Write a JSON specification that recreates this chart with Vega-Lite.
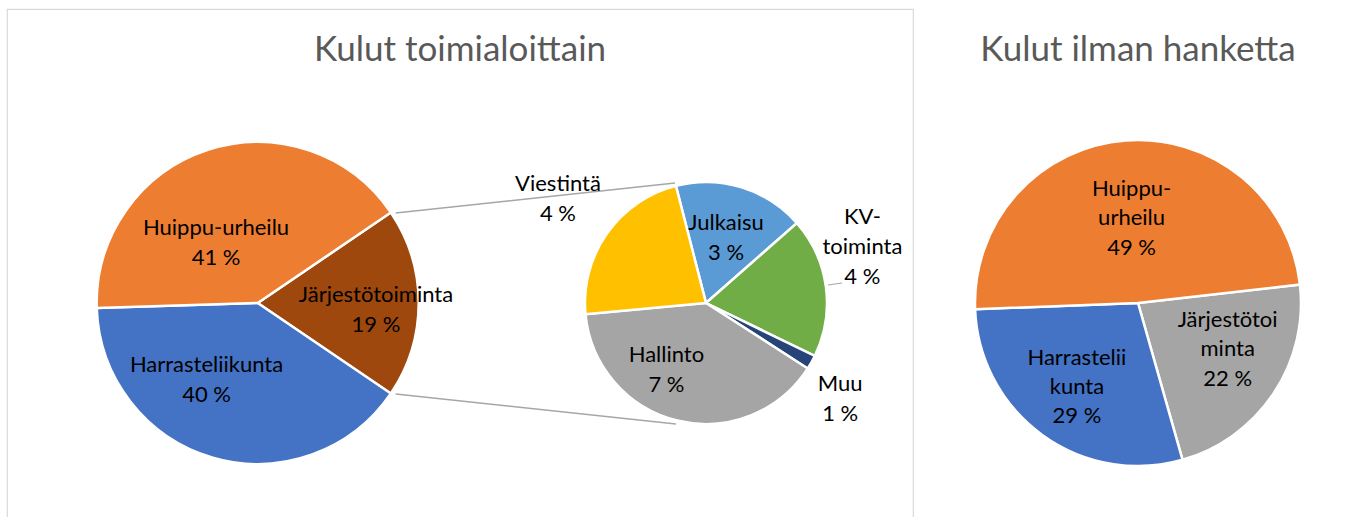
{
  "$schema": "https://vega.github.io/schema/vega-lite/v6.json",
  "padding": {"left": 6, "top": 8, "right": 3, "bottom": 0},
  "spacing": 2,
  "config": {
    "view": {"stroke": "#D9D9D9", "strokeWidth": 1.2},
    "font": "Lato"
  },
  "datasets": {
    "paa": [
      {"kaavio": "pää", "toimiala": "Järjestötoiminta", "nimike": "Järjestötoiminta", "prosentti": "19 %", "osuus": 19, "n": 1},
      {"kaavio": "pää", "toimiala": "Harrasteliikunta", "nimike": "Harrasteliikunta", "prosentti": "40 %", "osuus": 40, "n": 2},
      {"kaavio": "pää", "toimiala": "Huippu-urheilu", "nimike": "Huippu-urheilu", "prosentti": "41 %", "osuus": 41, "n": 3}
    ],
    "erittely": [
      {"kaavio": "erittely", "toimiala": "Julkaisu", "nimike": "Julkaisu", "prosentti": "3 %", "osuus": 3.33, "n": 1},
      {"kaavio": "erittely", "toimiala": "KV-toiminta", "nimike": "KV-\ntoiminta", "prosentti": "4 %", "osuus": 3.55, "n": 2},
      {"kaavio": "erittely", "toimiala": "Muu", "nimike": "Muu", "prosentti": "1 %", "osuus": 0.36, "n": 3},
      {"kaavio": "erittely", "toimiala": "Hallinto", "nimike": "Hallinto", "prosentti": "7 %", "osuus": 7.49, "n": 4},
      {"kaavio": "erittely", "toimiala": "Viestintä", "nimike": "Viestintä", "prosentti": "4 %", "osuus": 4.27, "n": 5}
    ],
    "ilman": [
      {"toimiala": "Järjestötoiminta", "nimike": "Järjestötoi\nminta", "prosentti": "22 %", "osuus": 22.4, "n": 1},
      {"toimiala": "Harrasteliikunta", "nimike": "Harrastelii\nkunta", "prosentti": "29 %", "osuus": 28.8, "n": 2},
      {"toimiala": "Huippu-urheilu", "nimike": "Huippu-\nurheilu", "prosentti": "49 %", "osuus": 48.8, "n": 3}
    ],
    "yhdysviivat": [
      {"mista": "pää", "mihin": "erittely", "reuna": "ylä"},
      {"mista": "pää", "mihin": "erittely", "reuna": "ala"},
      {"mista": "erittely", "mihin": "erittely", "reuna": "KV"}
    ]
  },
  "hconcat": [
    {
      "width": 906,
      "height": 588,
      "title": {"text": "Kulut toimialoittain", "font": "Lato", "fontSize": 35, "fontWeight": "normal", "color": "#595959", "anchor": "middle", "baseline": "alphabetic", "offset": -87},
      "layer": [
        {
          "data": {"name": "paa"},
          "mark": {"type": "arc", "outerRadius": 161, "stroke": "#FFFFFF", "strokeWidth": 2.5},
          "encoding": {
            "x": {"field": "kaavio", "type": "nominal", "scale": {"type": "point", "domain": ["pää", "erittely"], "padding": 0.5105, "align": 0.5477}, "axis": null},
            "theta": {"field": "osuus", "type": "quantitative", "stack": true, "scale": {"range": [0.97389, 7.25708]}},
            "order": {"field": "n", "type": "quantitative"},
            "color": {"field": "toimiala", "type": "nominal", "scale": {"domain": ["Huippu-urheilu", "Harrasteliikunta", "Järjestötoiminta"], "range": ["#ED7D31", "#4472C4", "#9E480E"]}, "legend": null}
          }
        },
        {
          "data": {"name": "erittely"},
          "mark": {"type": "arc", "outerRadius": 121, "stroke": "#FFFFFF", "strokeWidth": 2.5},
          "encoding": {
            "x": {"field": "kaavio", "type": "nominal", "scale": {"type": "point", "domain": ["pää", "erittely"], "padding": 0.5105, "align": 0.5477}, "axis": null},
            "theta": {"field": "osuus", "type": "quantitative", "stack": true, "scale": {"range": [-0.25133, 6.03186]}},
            "order": {"field": "n", "type": "quantitative"},
            "color": {"field": "toimiala", "type": "nominal", "scale": {"domain": ["Julkaisu", "KV-toiminta", "Muu", "Hallinto", "Viestintä"], "range": ["#5B9BD5", "#70AD47", "#264478", "#A5A5A5", "#FFC000"]}, "legend": null}
          }
        },
        {
          "data": {"name": "yhdysviivat"},
          "transform": [{"filter": "datum.reuna === 'ylä'"}],
          "mark": {"type": "rule", "color": "#A6A6A6", "strokeWidth": 1.5, "xOffset": 138, "x2Offset": -31, "yOffset": -90, "y2Offset": -120},
          "encoding": {
            "x": {"field": "mista", "type": "nominal", "scale": {"type": "point", "domain": ["pää", "erittely"], "padding": 0.5105, "align": 0.5477}, "axis": null},
            "x2": {"field": "mihin"},
            "y": {"datum": "keski", "type": "nominal", "scale": {"type": "point"}, "axis": null},
            "y2": {"datum": "keski"}
          }
        },
        {
          "data": {"name": "yhdysviivat"},
          "transform": [{"filter": "datum.reuna === 'ala'"}],
          "mark": {"type": "rule", "color": "#A6A6A6", "strokeWidth": 1.5, "xOffset": 138, "x2Offset": -30, "yOffset": 91, "y2Offset": 121},
          "encoding": {
            "x": {"field": "mista", "type": "nominal", "scale": {"type": "point", "domain": ["pää", "erittely"], "padding": 0.5105, "align": 0.5477}, "axis": null},
            "x2": {"field": "mihin"},
            "y": {"datum": "keski", "type": "nominal", "scale": {"type": "point"}, "axis": null},
            "y2": {"datum": "keski"}
          }
        },
        {
          "data": {"name": "yhdysviivat"},
          "transform": [{"filter": "datum.reuna === 'KV'"}],
          "mark": {"type": "rule", "color": "#A6A6A6", "strokeWidth": 1.2, "xOffset": 122, "x2Offset": 136, "yOffset": -18, "y2Offset": -20},
          "encoding": {
            "x": {"field": "mista", "type": "nominal", "scale": {"type": "point", "domain": ["pää", "erittely"], "padding": 0.5105, "align": 0.5477}, "axis": null},
            "x2": {"field": "mihin"},
            "y": {"datum": "keski", "type": "nominal", "scale": {"type": "point"}, "axis": null},
            "y2": {"datum": "keski"}
          }
        },
        {
          "data": {"name": "paa"},
          "transform": [{"calculate": "datum.nimike + '\\n' + datum.prosentti", "as": "teksti"}],
          "mark": {"type": "text", "radius": 73, "thetaOffset": -0.293, "dy": -15, "fontSize": 22, "lineBreak": "\n", "lineHeight": 30, "align": "center", "baseline": "middle", "fill": "#000000"},
          "encoding": {
            "x": {"field": "kaavio", "type": "nominal", "scale": {"type": "point", "domain": ["pää", "erittely"], "padding": 0.5105, "align": 0.5477}, "axis": null},
            "theta": {"field": "osuus", "type": "quantitative", "stack": true, "scale": {"range": [0.97389, 7.25708]}},
            "order": {"field": "n", "type": "quantitative"},
            "text": {"condition": {"test": "datum.toimiala === 'Huippu-urheilu'", "field": "teksti"}, "value": ""}
          }
        },
        {
          "data": {"name": "paa"},
          "transform": [{"calculate": "datum.nimike + '\\n' + datum.prosentti", "as": "teksti"}],
          "mark": {"type": "text", "radius": 92.7, "thetaOffset": 0.302, "dy": -15, "fontSize": 22, "lineBreak": "\n", "lineHeight": 30, "align": "center", "baseline": "middle", "fill": "#000000"},
          "encoding": {
            "x": {"field": "kaavio", "type": "nominal", "scale": {"type": "point", "domain": ["pää", "erittely"], "padding": 0.5105, "align": 0.5477}, "axis": null},
            "theta": {"field": "osuus", "type": "quantitative", "stack": true, "scale": {"range": [0.97389, 7.25708]}},
            "order": {"field": "n", "type": "quantitative"},
            "text": {"condition": {"test": "datum.toimiala === 'Harrasteliikunta'", "field": "teksti"}, "value": ""}
          }
        },
        {
          "data": {"name": "paa"},
          "transform": [{"calculate": "datum.nimike + '\\n' + datum.prosentti", "as": "teksti"}],
          "mark": {"type": "text", "radius": 118.5, "thetaOffset": 0.059, "dy": -15, "fontSize": 22, "lineBreak": "\n", "lineHeight": 30, "align": "center", "baseline": "middle", "fill": "#000000"},
          "encoding": {
            "x": {"field": "kaavio", "type": "nominal", "scale": {"type": "point", "domain": ["pää", "erittely"], "padding": 0.5105, "align": 0.5477}, "axis": null},
            "theta": {"field": "osuus", "type": "quantitative", "stack": true, "scale": {"range": [0.97389, 7.25708]}},
            "order": {"field": "n", "type": "quantitative"},
            "text": {"condition": {"test": "datum.toimiala === 'Järjestötoiminta'", "field": "teksti"}, "value": ""}
          }
        },
        {
          "data": {"name": "erittely"},
          "transform": [{"calculate": "datum.nimike + '\\n' + datum.prosentti", "as": "teksti"}],
          "mark": {"type": "text", "radius": 68, "thetaOffset": 0, "dy": -15, "fontSize": 22, "lineBreak": "\n", "lineHeight": 30, "align": "center", "baseline": "middle", "fill": "#000000"},
          "encoding": {
            "x": {"field": "kaavio", "type": "nominal", "scale": {"type": "point", "domain": ["pää", "erittely"], "padding": 0.5105, "align": 0.5477}, "axis": null},
            "theta": {"field": "osuus", "type": "quantitative", "stack": true, "scale": {"range": [-0.25133, 6.03186]}},
            "order": {"field": "n", "type": "quantitative"},
            "text": {"condition": {"test": "datum.toimiala === 'Julkaisu'", "field": "teksti"}, "value": ""}
          }
        },
        {
          "data": {"name": "erittely"},
          "transform": [{"calculate": "datum.nimike + '\\n' + datum.prosentti", "as": "teksti"}],
          "mark": {"type": "text", "radius": 166, "thetaOffset": -0.208, "dy": -30, "fontSize": 22, "lineBreak": "\n", "lineHeight": 30, "align": "center", "baseline": "middle", "fill": "#000000"},
          "encoding": {
            "x": {"field": "kaavio", "type": "nominal", "scale": {"type": "point", "domain": ["pää", "erittely"], "padding": 0.5105, "align": 0.5477}, "axis": null},
            "theta": {"field": "osuus", "type": "quantitative", "stack": true, "scale": {"range": [-0.25133, 6.03186]}},
            "order": {"field": "n", "type": "quantitative"},
            "text": {"condition": {"test": "datum.toimiala === 'KV-toiminta'", "field": "teksti"}, "value": ""}
          }
        },
        {
          "data": {"name": "erittely"},
          "transform": [{"calculate": "datum.nimike + '\\n' + datum.prosentti", "as": "teksti"}],
          "mark": {"type": "text", "radius": 165, "thetaOffset": 0.108, "dy": -15, "fontSize": 22, "lineBreak": "\n", "lineHeight": 30, "align": "center", "baseline": "middle", "fill": "#000000"},
          "encoding": {
            "x": {"field": "kaavio", "type": "nominal", "scale": {"type": "point", "domain": ["pää", "erittely"], "padding": 0.5105, "align": 0.5477}, "axis": null},
            "theta": {"field": "osuus", "type": "quantitative", "stack": true, "scale": {"range": [-0.25133, 6.03186]}},
            "order": {"field": "n", "type": "quantitative"},
            "text": {"condition": {"test": "datum.toimiala === 'Muu'", "field": "teksti"}, "value": ""}
          }
        },
        {
          "data": {"name": "erittely"},
          "transform": [{"calculate": "datum.nimike + '\\n' + datum.prosentti", "as": "teksti"}],
          "mark": {"type": "text", "radius": 78, "thetaOffset": 0.292, "dy": -15, "fontSize": 22, "lineBreak": "\n", "lineHeight": 30, "align": "center", "baseline": "middle", "fill": "#000000"},
          "encoding": {
            "x": {"field": "kaavio", "type": "nominal", "scale": {"type": "point", "domain": ["pää", "erittely"], "padding": 0.5105, "align": 0.5477}, "axis": null},
            "theta": {"field": "osuus", "type": "quantitative", "stack": true, "scale": {"range": [-0.25133, 6.03186]}},
            "order": {"field": "n", "type": "quantitative"},
            "text": {"condition": {"test": "datum.toimiala === 'Hallinto'", "field": "teksti"}, "value": ""}
          }
        },
        {
          "data": {"name": "erittely"},
          "transform": [{"calculate": "datum.nimike + '\\n' + datum.prosentti", "as": "teksti"}],
          "mark": {"type": "text", "radius": 181, "thetaOffset": 0, "dy": -15, "fontSize": 22, "lineBreak": "\n", "lineHeight": 30, "align": "center", "baseline": "middle", "fill": "#000000"},
          "encoding": {
            "x": {"field": "kaavio", "type": "nominal", "scale": {"type": "point", "domain": ["pää", "erittely"], "padding": 0.5105, "align": 0.5477}, "axis": null},
            "theta": {"field": "osuus", "type": "quantitative", "stack": true, "scale": {"range": [-0.25133, 6.03186]}},
            "order": {"field": "n", "type": "quantitative"},
            "text": {"condition": {"test": "datum.toimiala === 'Viestintä'", "field": "teksti"}, "value": ""}
          }
        }
      ],
      "resolve": {"scale": {"theta": "independent", "color": "independent", "x": "shared", "y": "shared"}}
    },
    {
      "width": 444,
      "height": 588,
      "title": {"text": "Kulut ilman hanketta", "font": "Lato", "fontSize": 35, "fontWeight": "normal", "color": "#595959", "anchor": "middle", "baseline": "alphabetic", "offset": -87},
      "data": {"name": "ilman"},
      "transform": [{"calculate": "datum.nimike + '\\n' + datum.prosentti", "as": "teksti"}],
      "encoding": {
        "theta": {"field": "osuus", "type": "quantitative", "stack": true, "scale": {"range": [1.45735, 7.74054]}},
        "order": {"field": "n", "type": "quantitative"}
      },
      "layer": [
        {
          "mark": {"type": "arc", "outerRadius": 163, "stroke": "#FFFFFF", "strokeWidth": 2.5},
          "encoding": {
            "color": {"field": "toimiala", "type": "nominal", "scale": {"domain": ["Huippu-urheilu", "Harrasteliikunta", "Järjestötoiminta"], "range": ["#ED7D31", "#4472C4", "#A5A5A5"]}, "legend": null}
          }
        },
        {
          "mark": {"type": "text", "radius": 101, "thetaOffset": -0.112, "dy": -29.3, "fontSize": 22, "lineBreak": "\n", "lineHeight": 29.3, "align": "center", "baseline": "middle", "fill": "#000000"},
          "encoding": {
            "text": {"condition": {"test": "datum.toimiala === 'Järjestötoiminta'", "field": "teksti"}, "value": ""}
          }
        },
        {
          "mark": {"type": "text", "radius": 104, "thetaOffset": 0, "dy": -29.3, "fontSize": 22, "lineBreak": "\n", "lineHeight": 29.3, "align": "center", "baseline": "middle", "fill": "#000000"},
          "encoding": {
            "text": {"condition": {"test": "datum.toimiala === 'Harrasteliikunta'", "field": "teksti"}, "value": ""}
          }
        },
        {
          "mark": {"type": "text", "radius": 85, "thetaOffset": 0, "dy": -29.3, "fontSize": 22, "lineBreak": "\n", "lineHeight": 29.3, "align": "center", "baseline": "middle", "fill": "#000000"},
          "encoding": {
            "text": {"condition": {"test": "datum.toimiala === 'Huippu-urheilu'", "field": "teksti"}, "value": ""}
          }
        }
      ]
    }
  ]
}
